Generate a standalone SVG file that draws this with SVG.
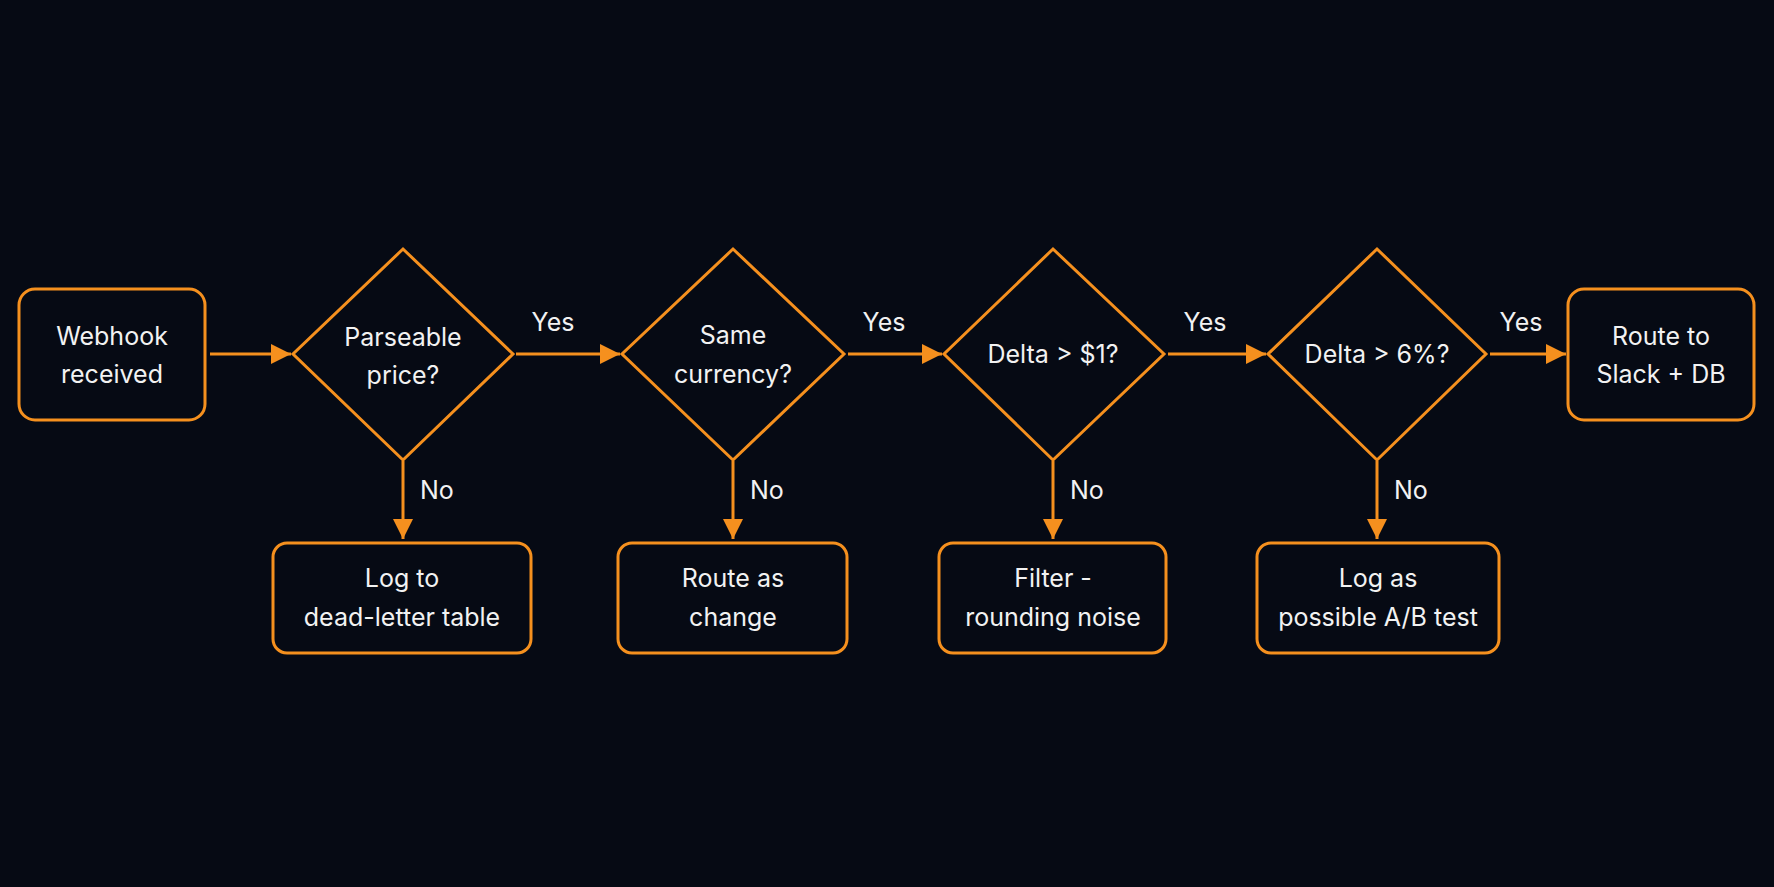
<svg xmlns="http://www.w3.org/2000/svg" width="1774" height="887" viewBox="0 0 1774 887">
<style>
.s{fill:none;stroke:#f5901e;stroke-width:3}
.t{fill:#f2f2f2;font-family:Inter,"Liberation Sans",sans-serif;font-size:25px;text-anchor:middle}
.l{fill:#f2f2f2;font-family:Inter,"Liberation Sans",sans-serif;font-size:25px}
.c{stroke:#f5901e;stroke-width:3;fill:none}
</style>
<defs><marker id="a" markerWidth="8" markerHeight="8" refX="7" refY="4" orient="auto" markerUnits="userSpaceOnUse" viewBox="0 0 8 8"><path d="M0,0L8,4L0,8z" fill="#f5901e" transform="scale(1)"/></marker>
<marker id="b" markerWidth="22" markerHeight="20" refX="20" refY="10" orient="auto" markerUnits="userSpaceOnUse"><path d="M0,0L20,10L0,20z" fill="#f5901e"/></marker></defs>
<rect width="1774" height="887" fill="#060a14"/>
<g id="connectors">
<line class="c" x1="210" y1="354" x2="291" y2="354" marker-end="url(#b)"/>
<line class="c" x1="516" y1="354" x2="620" y2="354" marker-end="url(#b)"/>
<line class="c" x1="848" y1="354" x2="942" y2="354" marker-end="url(#b)"/>
<line class="c" x1="1168" y1="354" x2="1266" y2="354" marker-end="url(#b)"/>
<line class="c" x1="1490" y1="354" x2="1566" y2="354" marker-end="url(#b)"/>
<line class="c" x1="403" y1="461" x2="403" y2="539" marker-end="url(#b)"/>
<line class="c" x1="733" y1="461" x2="733" y2="539" marker-end="url(#b)"/>
<line class="c" x1="1053" y1="461" x2="1053" y2="539" marker-end="url(#b)"/>
<line class="c" x1="1377" y1="461" x2="1377" y2="539" marker-end="url(#b)"/>
<text class="t" x="553" y="331">Yes</text>
<text class="t" x="884" y="331">Yes</text>
<text class="t" x="1205" y="331">Yes</text>
<text class="t" x="1521" y="331">Yes</text>
<text class="l" x="420" y="499">No</text>
<text class="l" x="750" y="499">No</text>
<text class="l" x="1070" y="499">No</text>
<text class="l" x="1394" y="499">No</text>
</g>
<g id="webhook"><rect class="s" x="19" y="289" width="186" height="131" rx="16"/><text class="t" x="112" y="345">Webhook</text><text class="t" x="112" y="383">received</text></g>
<g id="d1"><path class="s" d="M403,249L513,354L403,460L293,354z"/><text class="t" x="403" y="346">Parseable</text><text class="t" x="403" y="384">price?</text></g>
<g id="d2"><path class="s" d="M733,249L844,354L733,460L622,354z"/><text class="t" x="733" y="344">Same</text><text class="t" x="733" y="383">currency?</text></g>
<g id="d3"><path class="s" d="M1053,249L1164,354L1053,460L944,354z"/><text class="t" x="1053" y="363">Delta &gt; $1?</text></g>
<g id="d4"><path class="s" d="M1377,249L1486,354L1377,460L1268,354z"/><text class="t" x="1377" y="363">Delta &gt; 6%?</text></g>
<g id="route"><rect class="s" x="1568" y="289" width="186" height="131" rx="16"/><text class="t" x="1661" y="345">Route to</text><text class="t" x="1661" y="383">Slack + DB</text></g>
<g id="b1"><rect class="s" x="273" y="543" width="258" height="110" rx="14"/><text class="t" x="402" y="587">Log to</text><text class="t" x="402" y="626">dead-letter table</text></g>
<g id="b2"><rect class="s" x="618" y="543" width="229" height="110" rx="14"/><text class="t" x="733" y="587">Route as</text><text class="t" x="733" y="626">change</text></g>
<g id="b3"><rect class="s" x="939" y="543" width="227" height="110" rx="14"/><text class="t" x="1053" y="587">Filter -</text><text class="t" x="1053" y="626">rounding noise</text></g>
<g id="b4"><rect class="s" x="1257" y="543" width="242" height="110" rx="14"/><text class="t" x="1378" y="587">Log as</text><text class="t" x="1378" y="626">possible A/B test</text></g>
</svg>
